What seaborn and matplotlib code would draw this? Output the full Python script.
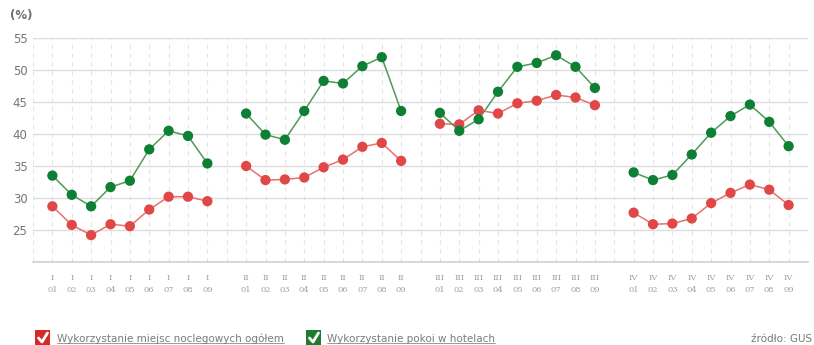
import matplotlib
matplotlib.use("Agg")
import matplotlib.pyplot as plt
import seaborn as sns
import pandas as pd
import numpy as np
from matplotlib.patches import Rectangle
from matplotlib.lines import Line2D

quarters = ["I", "II", "III", "IV"]
months = ["01", "02", "03", "04", "05", "06", "07", "08", "09"]

red_I = [28.7, 25.8, 24.2, 25.9, 25.6, 28.2, 30.2, 30.2, 29.5]
red_II = [35.0, 32.8, 32.9, 33.2, 34.8, 36.0, 38.0, 38.6, 35.8]
red_III = [41.6, 41.5, 43.7, 43.2, 44.8, 45.2, 46.1, 45.7, 44.5]
red_IV = [27.7, 25.9, 26.0, 26.8, 29.2, 30.8, 32.1, 31.3, 28.9]

green_I = [33.5, 30.5, 28.7, 31.7, 32.7, 37.6, 40.5, 39.7, 35.4]
green_II = [43.2, 39.9, 39.1, 43.6, 48.3, 47.9, 50.6, 52.0, 43.6]
green_III = [43.3, 40.5, 42.3, 46.6, 50.5, 51.1, 52.3, 50.5, 47.2]
green_IV = [34.0, 32.8, 33.6, 36.8, 40.2, 42.8, 44.6, 41.9, 38.1]

series_red = "Wykorzystanie miejsc noclegowych ogółem"
series_green = "Wykorzystanie pokoi w hotelach"

rows = []
for qi, q in enumerate(quarters):
    for name, vals in ((series_red, [red_I, red_II, red_III, red_IV][qi]),
                       (series_green, [green_I, green_II, green_III, green_IV][qi])):
        for mi, m in enumerate(months):
            rows.append({"pos": qi * 10 + mi + 1, "value": vals[mi],
                         "series": name, "quarter": q})
df = pd.DataFrame(rows)

sns.set_theme(style="white")
plt.rcParams["font.family"] = ["DejaVu Sans"]

fig = plt.figure(figsize=(8.14, 3.45), dpi=100)
ax = fig.add_axes([33 / 814, 1 - 262 / 345, (808 - 33) / 814, (262 - 38) / 345])

line_pal = {series_red: "#e87070", series_green: "#4f9a55"}
mark_pal = {series_red: "#e04848", series_green: "#0d8035"}

sns.lineplot(data=df, x="pos", y="value", hue="series", units="quarter",
             estimator=None, palette=line_pal, linewidth=1.1, legend=False,
             ax=ax, zorder=3)
sns.scatterplot(data=df, x="pos", y="value", hue="series", palette=mark_pal,
                s=55, edgecolor="none", legend=False, ax=ax, zorder=4)

ax.set_xlim(0, 40)
ax.set_ylim(20, 55)
ax.set_yticks([25, 30, 35, 40, 45, 50, 55])
ax.set_yticklabels(["25", "30", "35", "40", "45", "50", "55"])

tick_pos = list(range(1, 40))
tick_lab = []
for p in tick_pos:
    qi, mi = divmod(p, 10)
    if mi == 0:
        tick_lab.append("")
    else:
        tick_lab.append(f"{quarters[qi]}\n{months[mi - 1]}")
ax.set_xticks(tick_pos)
ax.set_xticklabels(tick_lab, fontsize=6, color="#a0a0a0", family="DejaVu Serif",
                   linespacing=1.5)
ax.tick_params(axis="x", length=0, pad=9)
ax.tick_params(axis="y", length=0, pad=4, labelsize=8.5, labelcolor="#757575")

ax.grid(axis="y", color="#dddddd", linewidth=1, linestyle="-")
ax.grid(axis="x", color="#e4e4e4", linewidth=0.8, linestyle=(0, (4, 4)))
ax.axvline(0, color="#e4e4e4", linewidth=0.8, linestyle=(0, (4, 4)))
ax.axvline(40, color="#e4e4e4", linewidth=0.8, linestyle=(0, (4, 4)))
for s in ("top", "right", "left"):
    ax.spines[s].set_visible(False)
ax.spines["bottom"].set_color("#d0d0d0")
ax.spines["bottom"].set_linewidth(1.2)
ax.set_xlabel("")
ax.set_ylabel("")

fig.text(10 / 814, 1 - 16 / 345, "(%)", fontsize=8.5, fontweight="bold",
         color="#707070", va="center", ha="left")

def checkbox(x0, color):
    y0 = 330
    w = 15
    fig.patches.append(Rectangle((x0 / 814, 1 - (y0 + w) / 345), w / 814, w / 345,
                                 transform=fig.transFigure, facecolor=color,
                                 edgecolor="none"))
    xs = [(x0 + 3.5) / 814, (x0 + 7) / 814, (x0 + 12.5) / 814]
    ys = [1 - (y0 + 8) / 345, 1 - (y0 + 12) / 345, 1 - (y0 + 3) / 345]
    fig.lines.append(Line2D(xs, ys, transform=fig.transFigure, color="white",
                            linewidth=2))

checkbox(35, "#d42a2a")
checkbox(306, "#1f7a30")

t1 = fig.text(57 / 814, 1 - 339 / 345, series_red, fontsize=7.5, color="#7a7a7a",
              va="center", ha="left")
t2 = fig.text(327 / 814, 1 - 339 / 345, series_green, fontsize=7.5, color="#7a7a7a",
              va="center", ha="left")
fig.text(812 / 814, 1 - 339 / 345, "źródło: GUS", fontsize=7.5, color="#7a7a7a",
         va="center", ha="right")

fig.canvas.draw()
r = fig.canvas.get_renderer()
for t in (t1, t2):
    bb = t.get_window_extent(r).transformed(fig.transFigure.inverted())
    fig.lines.append(Line2D([bb.x0, bb.x1], [bb.y0 + 0.004, bb.y0 + 0.004],
                            transform=fig.transFigure, color="#8a8a8a",
                            linewidth=0.6))

fig.savefig("out.png", dpi=100)
